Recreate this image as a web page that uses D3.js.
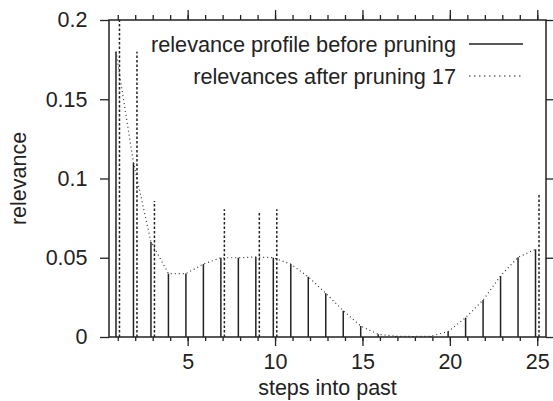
<!DOCTYPE html>
<html>
<head>
  <meta charset="UTF-8">
  <style>
    body { margin: 0; background: #fff; }
    svg { display: block; }
    text { font-family: "Liberation Sans", Arial, sans-serif; font-size: 21.5px; fill: #222; }
    .axis path { display: none; }
    .axis line { stroke: #222; stroke-width: 1.3px; }
    .frame { fill: none; stroke: #222; stroke-width: 1.5px; }
    .before { stroke: #222; stroke-width: 1.5px; }
    .after { stroke: #222; stroke-width: 1.5px; stroke-dasharray: 2.5,2; }
    .profile { fill: none; stroke: #333; stroke-width: 1.2px; stroke-dasharray: 1,3; }
  </style>
</head>
<body>
  <svg width="553" height="401"></svg>
  <script src="https://d3js.org/d3.v7.min.js"></script>
  <script>
    // relevance profile before pruning, one value per step into the past
    const steps = d3.range(1, 26);
    const profile = [0.18, 0.11, 0.06, 0.04, 0.04, 0.046, 0.05, 0.05, 0.0505, 0.05,
                     0.046, 0.038, 0.0276, 0.0166, 0.0069, 0.0017, 0.0005, 0.0003, 0.0005, 0.0034,
                     0.0122, 0.0233, 0.0385, 0.0503, 0.0553];

    // relevances kept after pruning 17 steps
    const prunedSteps = [1, 2, 3, 7, 9, 10, 25];
    const prunedValues = [0.2, 0.18, 0.0858, 0.0806, 0.0795, 0.0806, 0.0896];

    const xMajor = [5, 10, 15, 20, 25];
    const yTicks = [0, 0.05, 0.1, 0.15, 0.2];
    const legendLabels = ['relevance profile before pruning', 'relevances after pruning 17'];

    const svg = d3.select('svg');
    const pLeft = 109, pRight = 546, pTop = 20, pBottom = 337;

    const x = d3.scaleLinear().domain([0.5, 25.5]).range([pLeft, pRight]);
    const y = d3.scaleLinear().domain([0, 0.2]).range([pBottom, pTop]);

    svg.append('clipPath').attr('id', 'plot')
      .append('rect').attr('x', pLeft).attr('y', pTop)
      .attr('width', pRight - pLeft).attr('height', pBottom - pTop);

    // axes: minor ticks on each step, longer ones every 5
    svg.append('g').attr('class', 'axis').attr('transform', `translate(0,${pBottom})`)
      .call(d3.axisBottom(x).tickValues(steps).tickSize(4).tickFormat(''));
    svg.append('g').attr('class', 'axis').attr('transform', `translate(0,${pBottom})`)
      .call(d3.axisBottom(x).tickValues(xMajor).tickSize(9).tickPadding(7.5));
    svg.append('g').attr('class', 'axis').attr('transform', `translate(0,${pTop})`)
      .call(d3.axisTop(x).tickValues(steps).tickSize(5).tickFormat(''));
    svg.append('g').attr('class', 'axis').attr('transform', `translate(0,${pTop})`)
      .call(d3.axisTop(x).tickValues(xMajor).tickSize(10).tickFormat(''));
    svg.append('g').attr('class', 'axis').attr('transform', `translate(${pLeft},0)`)
      .call(d3.axisLeft(y).tickValues(yTicks).tickSize(9).tickPadding(12.5).tickFormat(d => String(d)));
    svg.append('g').attr('class', 'axis').attr('transform', `translate(${pRight},0)`)
      .call(d3.axisRight(y).tickValues(yTicks).tickSize(7).tickFormat(''));

    const plot = svg.append('g').attr('clip-path', 'url(#plot)');

    // solid impulses, slightly left of each step
    plot.selectAll('line.before')
      .data(steps)
      .enter()
      .append('line')
      .attr('class', 'before')
      .attr('x1', d => x(d - 0.1))
      .attr('x2', d => x(d - 0.1))
      .attr('y1', y(0))
      .attr('y2', (d, i) => y(profile[i]));

    // dotted curve through the profile tops
    plot.append('path')
      .datum(steps)
      .attr('class', 'profile')
      .attr('d', d3.line().x(d => x(d - 0.1)).y((d, i) => y(profile[i])));

    // dotted impulses, slightly right of each step
    plot.selectAll('line.after')
      .data(prunedSteps)
      .enter()
      .append('line')
      .attr('class', 'after')
      .attr('x1', d => x(d + 0.1))
      .attr('x2', d => x(d + 0.1))
      .attr('y1', y(0))
      .attr('y2', (d, i) => y(prunedValues[i]));

    svg.append('rect').attr('class', 'frame')
      .attr('x', pLeft).attr('y', pTop)
      .attr('width', pRight - pLeft).attr('height', pBottom - pTop);

    // legend
    const legend = svg.append('g');
    legendLabels.forEach((label, i) => {
      const ly = 44 + i * 32;
      legend.append('text')
        .attr('x', 456).attr('y', ly).attr('dy', '0.35em')
        .attr('text-anchor', 'end')
        .style('font-size', '21.7px')
        .text(label);
      legend.append('line')
        .attr('class', i === 0 ? 'before' : 'after')
        .attr('x1', 469).attr('x2', 523)
        .attr('y1', ly).attr('y2', ly)
        .style('stroke-width', i === 0 ? '1.3px' : '1.2px')
        .style('stroke-dasharray', i === 0 ? null : '1.5,3.5');
    });

    svg.append('text')
      .attr('x', (pLeft + pRight) / 2).attr('y', 395)
      .attr('text-anchor', 'middle')
      .text('steps into past');

    svg.append('text')
      .attr('transform', `translate(26,${(pTop + pBottom) / 2}) rotate(-90)`)
      .attr('text-anchor', 'middle')
      .text('relevance');
  </script>
</body>
</html>
